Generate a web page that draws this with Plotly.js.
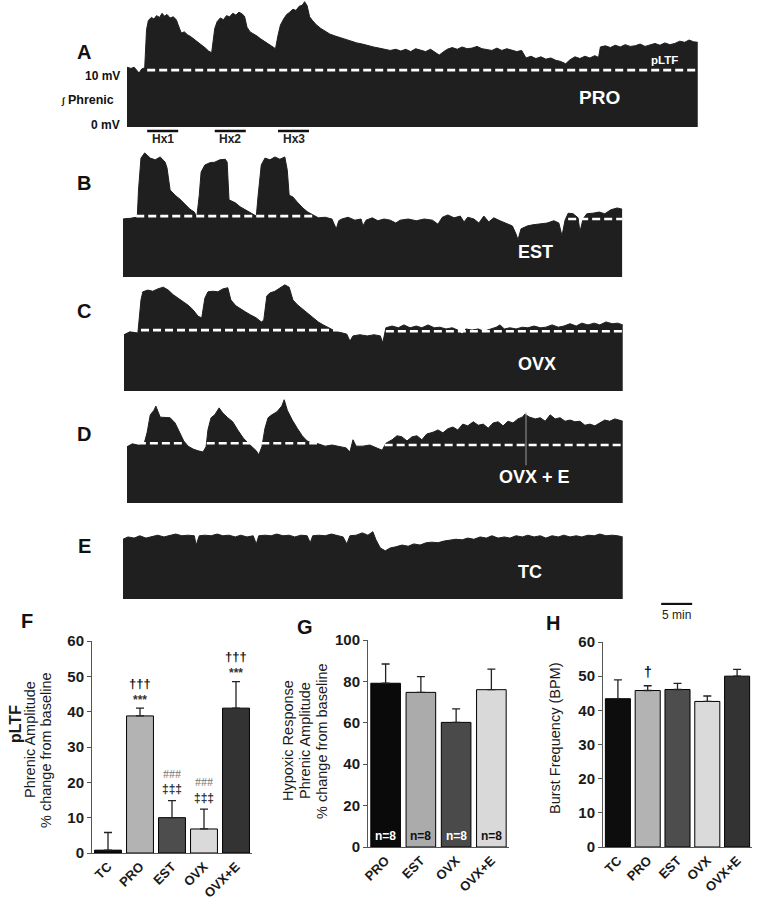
<!DOCTYPE html>
<html><head><meta charset="utf-8">
<script src="https://cdn.plot.ly/plotly-3.0.1.min.js"></script>
<style>html,body{margin:0;padding:0;background:#fff}#chart{width:761px;height:900px}</style>
</head><body><div id="chart"></div>
<script>
// ---------------- DATA ----------------
// Integrated phrenic traces: time (min) and amplitude (mV)
const tA=[0.65,1.3,1.8,2.3,2.6,3.0,3.5,3.8,4.1,4.6,5.0,5.4,5.9,6.3,6.7,7.1,7.6,8.1,8.6,8.9,9.4,9.9,10.4,10.9,11.5,12.1,12.7,13.3,13.8,14.3,14.8,15.2,15.7,16.2,16.7,17.2,17.7,18.2,18.7,19.2,19.6,20.0,20.5,21.0,21.6,22.2,22.8,23.4,24.0,24.6,25.0,25.4,25.9,26.4,26.9,27.4,27.9,28.4,28.9,29.3,29.7,30.1,30.6,31.2,31.9,32.6,33.4,34.2,35.0,35.9,36.8,37.7,38.6,39.5,40.4,41.3,42.2,43.1,44.0,44.8,45.6,46.4,47.2,48.0,48.8,49.6,50.3,51.0,51.6,52.3,53.1,53.9,54.7,55.5,56.3,57.1,57.9,58.7,59.5,60.3,61.1,61.9,62.7,63.5,64.3,65.0,65.8,66.6,67.4,68.2,69.0,69.8,70.6,71.4,72.1,72.9,73.7,74.5,75.3,76.1,76.7,77.0,77.8,78.6,79.4,80.2,81.0,81.8,82.6,83.4,84.2,85.0,85.8,86.6,87.4,88.2,89.0,89.8,90.6,91.3,92.0,92.7];
const vA=[10.3,10.1,10.3,9.6,9.3,10.0,10.2,16.8,18.4,18.9,18.6,19.2,18.9,19.6,19.1,19.4,18.8,19.0,18.5,17.6,16.2,16.4,15.9,15.6,15.1,14.7,14.2,13.6,13.1,12.8,17.0,18.2,18.8,18.5,19.2,19.0,19.6,19.3,19.8,19.5,19.1,17.2,16.4,16.1,15.7,15.2,14.8,14.3,13.9,13.5,15.8,17.6,18.6,19.4,19.8,20.3,20.1,20.8,21.0,21.6,20.9,19.0,18.3,17.6,17.0,16.5,16.0,15.7,15.4,15.1,14.8,14.5,14.3,14.0,13.8,13.6,13.4,13.2,13.4,13.1,13.4,13.0,13.5,13.3,13.0,13.4,12.9,12.4,12.9,13.4,13.7,13.4,13.8,13.5,13.6,13.9,13.5,13.4,13.2,13.6,13.2,13.5,13.3,13.0,13.2,11.9,12.2,11.8,12.1,11.7,11.9,11.5,11.3,10.9,11.6,12.1,11.8,12.2,11.9,12.3,12.0,13.8,14.0,13.7,14.1,13.8,14.2,13.9,14.0,14.3,13.9,14.2,14.4,14.1,14.5,14.2,14.4,14.8,14.6,15.0,14.7,14.6];

const tB=[0,1.1,2.3,2.5,2.9,3.5,4.4,5.2,6.0,6.8,7.1,7.6,8.4,9.2,10.0,10.8,11.5,11.9,12.3,12.6,13.2,14.0,14.8,15.6,16.5,16.8,17.1,18.1,18.9,19.7,20.8,21.5,21.8,22.3,22.9,23.7,24.5,25.3,26.1,26.5,26.8,27.4,28.2,29.0,29.8,30.6,31.5,32.6,33.7,34.4,34.8,35.3,36.3,37.4,38.4,38.7,39.2,40.2,41.1,42.1,43.1,44.0,44.7,46.0,47.3,48.6,49.9,50.8,51.5,52.4,53.4,54.4,55.0,55.6,56.6,57.4,58.2,59.0,59.8,60.8,61.8,62.8,63.4,63.7,64.2,65.2,66.1,67.3,68.4,69.5,70.3,70.8,71.3,71.8,72.6,73.4,73.7,74.2,74.8,75.8,76.8,77.7,78.7,79.7,80.5];
const vB=[10.0,10.1,10.3,15.0,20.5,21.4,20.5,20.2,20.7,19.8,18.8,15.0,14.1,13.4,12.6,11.7,11.2,10.3,14.1,18.1,19.3,19.7,19.8,20.2,20.3,19.8,13.3,12.8,12.1,11.6,11.0,10.5,14.1,19.3,20.5,20.2,20.7,20.3,20.7,18.4,14.1,13.8,12.8,11.9,11.2,10.7,10.2,10.3,10.0,8.3,9.7,10.0,10.3,9.8,10.0,8.8,9.8,10.2,9.7,10.0,9.8,9.3,9.8,10.0,9.7,10.0,9.8,9.1,10.3,10.7,10.2,10.5,9.5,10.3,10.0,9.3,10.5,9.5,10.2,9.7,9.3,8.8,7.4,6.4,8.3,8.8,9.0,9.1,9.3,9.7,9.3,7.1,9.8,11.0,10.9,10.2,7.8,10.0,10.9,11.0,11.2,10.9,11.6,11.9,11.7];

const tC=[0.16,1.1,2.4,2.9,3.2,4.0,4.8,5.6,6.5,7.3,8.1,8.9,9.7,10.5,11.3,12.1,12.7,13.2,13.7,14.5,15.3,16.1,16.9,17.4,18.2,19.0,19.8,20.6,21.5,22.3,22.7,23.2,23.7,24.5,25.3,26.1,26.8,27.4,28.2,29.0,29.8,30.6,31.5,32.3,33.1,33.9,34.7,35.5,36.1,36.6,37.1,38.2,39.4,40.5,41.5,41.9,42.4,43.4,44.4,45.3,46.3,47.3,48.2,49.2,50.2,51.1,52.1,53.1,54.0,54.7,55.3,56.3,57.3,58.2,59.2,60.2,60.8,61.5,62.4,63.4,64.4,65.3,66.3,67.3,68.2,69.2,70.2,71.1,72.1,73.1,74.0,75.0,76.0,76.9,77.9,78.9,79.8,80.6];
const vC=[9.7,10.2,10.0,15.7,17.1,17.4,17.2,17.6,17.9,17.4,16.6,16.0,15.3,14.8,14.0,12.9,12.6,16.0,17.1,17.2,17.1,17.6,17.8,15.7,14.7,14.1,13.6,13.1,12.6,11.9,12.2,16.4,16.9,17.2,17.8,18.3,17.9,15.7,14.8,14.1,13.4,12.6,11.9,11.4,10.9,10.5,10.2,10.0,9.8,8.6,9.5,9.7,9.5,9.7,9.5,8.3,10.9,11.2,10.9,11.4,10.9,11.2,10.9,11.4,10.9,11.0,10.7,10.9,10.5,9.8,10.7,10.5,10.7,10.3,10.7,11.0,11.4,10.7,10.9,10.7,11.0,10.9,11.2,10.9,11.0,11.4,11.0,11.2,11.6,11.2,11.7,11.4,11.7,11.4,11.9,11.6,11.7,11.4];

const tD=[0.65,1.5,2.4,3.4,3.9,4.4,5.0,5.3,6.0,6.8,7.6,8.4,9.2,9.8,10.5,11.3,12.1,12.9,13.4,13.7,14.2,14.8,15.5,16.1,16.9,17.7,18.5,19.4,20.2,20.8,21.5,21.9,22.4,22.9,23.4,24.0,24.8,25.6,26.0,26.5,27.3,28.1,28.9,29.7,30.5,31.5,32.6,33.7,34.8,36.0,36.6,37.1,37.6,38.7,39.8,41.0,41.8,42.4,43.4,44.2,45.0,45.8,46.6,47.4,48.2,49.0,50.0,50.8,51.6,52.4,53.2,54.0,54.8,55.6,56.5,57.3,58.1,58.9,59.7,60.5,61.3,62.1,62.9,63.7,64.4,64.8,65.6,66.5,67.3,68.1,68.9,69.7,70.5,71.3,72.1,72.9,73.7,74.5,75.3,76.1,76.9,77.7,78.5,79.3,80.0,80.6];
const vD=[9.7,10.2,10.0,10.2,12.2,15.2,16.0,16.7,14.8,14.7,14.7,13.8,12.1,10.7,9.8,9.3,9.0,8.8,9.7,12.6,14.7,15.2,16.4,15.5,14.7,14.0,12.6,11.2,10.3,9.7,9.0,8.3,9.7,12.9,14.7,15.2,15.7,16.7,17.8,16.0,14.3,12.9,11.6,10.7,10.3,10.2,9.8,10.0,9.7,9.5,8.8,10.9,9.8,9.8,10.0,9.5,9.1,10.3,10.9,11.6,11.4,10.7,11.4,11.6,10.9,11.9,12.2,12.6,12.1,12.8,13.1,12.6,13.6,13.3,14.0,13.4,13.6,12.9,13.8,14.0,13.3,14.1,13.8,14.5,14.8,15.3,14.8,14.5,14.7,14.1,15.2,14.5,14.7,14.1,14.3,14.0,14.1,13.4,13.6,13.3,13.8,14.3,14.1,14.5,14.3,14.1];
// recording artifact in D (time, from mV, to mV)
const artifactD=[65.0, 15.6, 6.5];

const tE=[0,0.8,1.8,2.7,3.7,4.7,5.6,6.6,7.6,8.5,9.5,10.5,11.5,11.8,12.3,13.2,14.2,15.2,16.1,17.1,18.1,19.0,20.0,21.0,21.5,21.9,22.9,23.9,24.8,25.8,26.8,27.7,28.7,29.7,30.2,30.6,31.6,32.6,33.6,34.5,35.5,36.1,36.6,37.6,38.6,39.5,40.3,40.8,41.5,42.3,43.1,44.0,45.0,46.0,46.9,47.9,48.9,49.8,50.8,51.8,52.7,53.7,54.7,55.6,56.6,57.6,58.6,59.5,60.5,61.5,62.4,63.4,64.4,65.3,66.3,67.3,68.2,69.2,70.2,71.1,72.1,73.1,74.0,75.0,76.0,76.9,77.9,78.9,79.8,80.6];
const vE=[10.3,10.7,10.5,10.9,10.5,10.7,11.0,10.7,10.9,11.2,10.9,11.0,10.9,9.3,10.9,11.0,10.9,11.2,10.9,11.0,10.7,11.0,10.7,10.9,9.5,10.9,11.0,10.9,11.2,10.9,11.0,10.7,11.0,10.9,9.7,10.9,11.0,10.9,11.2,10.9,10.7,9.5,10.9,11.0,11.4,11.0,11.6,10.2,8.8,8.3,8.8,9.0,9.3,9.1,9.5,9.3,9.7,9.8,9.7,10.0,10.2,10.3,10.2,10.5,10.3,10.7,10.5,10.9,10.5,10.7,10.5,10.9,10.7,11.0,10.7,10.9,10.5,10.9,10.7,11.0,10.7,10.9,10.7,11.0,10.9,11.2,10.9,11.0,10.9,10.7];

// baseline (dashed) segments per trace: start, end (min), level (mV)
const baseStartA=[3.9], baseEndA=[92.7], baseLevelA=[9.8];
const baseStartB=[0.2,71.8], baseEndB=[31.0,80.5], baseLevelB=[10.5,10.0];
const baseStartC=[2.9,42.4], baseEndC=[35.5,80.6], baseLevelC=[10.5,10.3];
const baseStartD=[2.4,13.5,22.3,42.2], baseEndD=[10.0,20.5,31.3,80.6], baseLevelD=[10.3,10.3,10.3,10.0];

// hypoxic episodes (min)
const hxStart=[3.9,14.8,25.0], hxEnd=[8.9,19.8,30.0], hxNames=['Hx1','Hx2','Hx3'];
// time scale bar
const scaleStart=86.8, scaleMinutes=5;

// F: pLTF
const catF=['TC','PRO','EST','OVX','OVX+E'];
const valF=[0.8,38.8,10.0,6.8,41.0];
const errF=[5.0,2.2,4.8,5.6,7.5];
// G: hypoxic response
const catG=['PRO','EST','OVX','OVX+E'];
const valG=[79.1,74.7,60.2,76.0];
const errG=[9.3,7.6,6.5,9.9];
const nG=['n=8','n=8','n=8','n=8'];
// H: burst frequency
const catH=['TC','PRO','EST','OVX','OVX+E'];
const valH=[43.4,45.8,46.1,42.6,50.0];
const errH=[5.5,1.4,1.8,1.6,2.0];

// ---------------- LAYOUT HELPERS ----------------
const W=761, H=900, K=5.8; // px per mV in the traces
const FF='Liberation Sans, Arial, Helvetica, sans-serif';
const INK='#1f1f1f';
function px2x(px){return px/W;}
function py2y(py){return 1-py/H;}
function ydom(bottomPx, lo, hi){return [py2y(bottomPx-lo*K), py2y(bottomPx-hi*K)];}

const panels=[
  {id:'y',  ax:'yaxis',  t:tA, v:vA, bottom:127, lo:-3.2, hi:21.85, bs:baseStartA, be:baseEndA, bl:baseLevelA},
  {id:'y2', ax:'yaxis2', t:tB, v:vB, bottom:277, lo:-1,   hi:23.2, bs:baseStartB, be:baseEndB, bl:baseLevelB},
  {id:'y3', ax:'yaxis3', t:tC, v:vC, bottom:391, lo:-1,   hi:19.6, bs:baseStartC, be:baseEndC, bl:baseLevelC},
  {id:'y4', ax:'yaxis4', t:tD, v:vD, bottom:503, lo:-1,   hi:19.5, bs:baseStartD, be:baseEndD, bl:baseLevelD},
  {id:'y5', ax:'yaxis5', t:tE, v:vE, bottom:599, lo:-3.6, hi:12.4, bs:[], be:[], bl:[]}
];

const data=[];
const layout={
  width:W, height:H, margin:{l:0,r:0,t:0,b:0},
  paper_bgcolor:'#ffffff', plot_bgcolor:'rgba(0,0,0,0)',
  showlegend:false, font:{family:FF, color:'#111'},
  xaxis:{domain:[px2x(123),px2x(698)], range:[0,92.74], visible:false, fixedrange:true},
  annotations:[]
};

panels.forEach(p=>{
  layout[p.ax]={domain:ydom(p.bottom,p.lo,p.hi), range:[p.lo,p.hi], visible:false, fixedrange:true, anchor:'x'};
  data.push({type:'scatter', mode:'lines', x:p.t, y:p.v, xaxis:'x', yaxis:p.id,
    fill:'tozeroy', fillcolor:INK, line:{color:INK, width:1}, hoverinfo:'skip'});
  if(p.bs.length){
    const xs=[], ys=[];
    p.bs.forEach((s,i)=>{xs.push(s,p.be[i],null); ys.push(p.bl[i],p.bl[i],null);});
    data.push({type:'scatter', mode:'lines', x:xs, y:ys, xaxis:'x', yaxis:p.id,
      line:{color:'#ffffff', width:2.6, dash:'8px,4px'}, hoverinfo:'skip'});
  }
});

// artifact line in D
data.push({type:'scatter', mode:'lines', x:[artifactD[0],artifactD[0]], y:[artifactD[1],artifactD[2]],
  xaxis:'x', yaxis:'y4', line:{color:'#9a9a9a', width:1}, hoverinfo:'skip'});

// hypoxia bars under A
(function(){
  const xs=[], ys=[];
  hxStart.forEach((s,i)=>{xs.push(s,hxEnd[i],null); ys.push(-0.7,-0.7,null);});
  data.push({type:'scatter', mode:'lines', x:xs, y:ys, xaxis:'x', yaxis:'y', cliponaxis:false,
    line:{color:'#111', width:2.5}, hoverinfo:'skip'});
  hxNames.forEach((n,i)=>layout.annotations.push({xref:'x', yref:'y', x:(hxStart[i]+hxEnd[i])/2, y:-2.05,
    text:'<b>'+n+'</b>', showarrow:false, font:{size:12, family:FF, color:'#222'}}));
})();

// scale bar under E
data.push({type:'scatter', mode:'lines', x:[scaleStart, scaleStart+scaleMinutes], y:[-0.85,-0.85],
  xaxis:'x', yaxis:'y5', cliponaxis:false, line:{color:'#111', width:2.2}, hoverinfo:'skip'});
layout.annotations.push({xref:'x', yref:'y5', x:scaleStart+scaleMinutes/2, y:-2.75, text:scaleMinutes+' min',
  showarrow:false, font:{size:12, family:FF, color:'#222'}});

// labels inside traces
const traceLabels=[
  {ax:'y', x:76.9, y:5.0, text:'PRO', size:19},
  {ax:'y', x:87.4, y:11.6, text:'pLTF', size:11.5},
  {ax:'y2', x:66.5, y:4.3, text:'EST', size:18},
  {ax:'y3', x:66.8, y:4.7, text:'OVX', size:18},
  {ax:'y4', x:66.3, y:4.5, text:'OVX + E', size:18},
  {ax:'y5', x:65.6, y:4.6, text:'TC', size:18}
];
traceLabels.forEach(l=>layout.annotations.push({xref:'x', yref:l.ax, x:l.x, y:l.y, text:'<b>'+l.text+'</b>',
  showarrow:false, font:{size:l.size, family:FF, color:'#ffffff'}}));

// paper labels
function paperText(px,py,text,size,opts){
  layout.annotations.push(Object.assign({xref:'paper', yref:'paper', x:px2x(px), y:py2y(py), text:text,
    showarrow:false, xanchor:'center', yanchor:'middle', font:{size:size, family:FF, color:'#111'}}, opts||{}));
}
[['A',84,52],['B',84,183],['C',84,311],['D',84,434],['E',84,546],['F',27,621],['G',305,627],['H',553,623]]
  .forEach(a=>paperText(a[1],a[2],'<b>'+a[0]+'</b>',20));
paperText(122,76,'<b>10 mV</b>',12,{xanchor:'right'});
paperText(116,100,'<b><span style="font-size:9px">∫</span> Phrenic</b>',12.5,{xanchor:'right'});
paperText(122,125,'<b>0 mV</b>',12,{xanchor:'right'});

// ---------------- BAR CHARTS ----------------
const tickFont={size:15, family:FF, color:'#1a1a1a', weight:'bold'};
function barAxes(xa, ya, xdomPx, ydomPy, range, dtick){
  layout[xa]={domain:[px2x(xdomPx[0]),px2x(xdomPx[1])], anchor:ya.replace('axis',''), type:'category',
    showline:true, linecolor:'#555', linewidth:1, ticks:'', tickangle:-45,
    tickfont:{size:13, family:FF, color:'#1a1a1a', weight:'bold'}, showgrid:false, zeroline:false, fixedrange:true};
  layout[ya]={domain:[py2y(ydomPy[0]),py2y(ydomPy[1])], anchor:xa.replace('axis',''), range:range, dtick:dtick,
    showline:true, linecolor:'#555', linewidth:1, ticks:'outside', ticklen:4, tickcolor:'#555',
    tickfont:tickFont, showgrid:false, zeroline:false, fixedrange:true};
}
barAxes('xaxis2','yaxis6',[92,252],[853,641],[0,60],10);
barAxes('xaxis3','yaxis7',[368,509],[847,640],[0,100],20);
barAxes('xaxis4','yaxis8',[603,752],[847,642],[0,60],10);
layout.bargap=0.16;

function barTrace(cat,val,err,colors,xa,ya){
  return {type:'bar', x:cat, y:val, xaxis:xa, yaxis:ya,
    marker:{color:colors, line:{color:'#000', width:1}},
    error_y:{type:'data', symmetric:false, array:err, arrayminus:err.map(()=>0), color:'#222', thickness:1.3, width:4},
    hoverinfo:'skip'};
}
const colF=['#0d0d0d','#b3b3b3','#4d4d4d','#dadada','#333333'];
const colG=['#0a0a0a','#ababab','#4a4a4a','#d9d9d9'];
const colH=['#0d0d0d','#b3b3b3','#4d4d4d','#dadada','#333333'];
data.push(barTrace(catF,valF,errF,colF,'x2','y6'));
data.push(barTrace(catG,valG,errG,colG,'x3','y7'));
data.push(barTrace(catH,valH,errH,colH,'x4','y8'));

// significance marks
const sigF=[
  {c:'PRO', y:47.9, t:'†††', col:'#111', size:13, bold:true},
  {c:'PRO', y:43.3, t:'***', col:'#333', size:12, bold:true},
  {c:'OVX+E', y:55.6, t:'†††', col:'#111', size:13, bold:true},
  {c:'OVX+E', y:51.0, t:'***', col:'#333', size:12, bold:true},
  {c:'EST', y:22.4, t:'###', col:'#777', size:12, serif:true},
  {c:'EST', y:18.0, t:'‡‡‡', col:'#333', size:12, bold:true},
  {c:'OVX', y:20.0, t:'###', col:'#777', size:12, serif:true},
  {c:'OVX', y:15.7, t:'‡‡‡', col:'#333', size:12, bold:true}
];
sigF.forEach(s=>layout.annotations.push({xref:'x2', yref:'y6', x:s.c, y:s.y, showarrow:false,
  text:s.bold?'<b>'+s.t+'</b>':s.t, font:{size:s.size, color:s.col, family:s.serif?'Liberation Serif, Times New Roman, serif':FF}}));
layout.annotations.push({xref:'x4', yref:'y8', x:'PRO', y:51.2, showarrow:false, text:'<b>†</b>',
  font:{size:14, color:'#111', family:FF}});
const nCol=['#ffffff','#111111','#ffffff','#111111'];
catG.forEach((c,i)=>layout.annotations.push({xref:'x3', yref:'y7', x:c, y:5.3, showarrow:false,
  text:'<b>'+nG[i]+'</b>', font:{size:12, color:nCol[i], family:FF}}));

// y axis titles (rotated text)
function vtext(px,py,text,size){paperText(px,py,text,size,{textangle:-90, font:{size:size, family:FF, color:'#1a1a1a'}});}
vtext(15,724,'<b>pLTF</b>',16);
vtext(30,740,'Phrenic Amplitude',14.5);
vtext(46,750,'% change from baseline',14.5);
vtext(288,741,'Hypoxic Response',14.5);
vtext(305,741,'Phrenic Amplitude',14.5);
vtext(322,741,'% change from baseline',14.5);
vtext(555,738,'Burst Frequency (BPM)',14.5);

Plotly.newPlot('chart', data, layout, {staticPlot:true, displayModeBar:false});
</script></body></html>
